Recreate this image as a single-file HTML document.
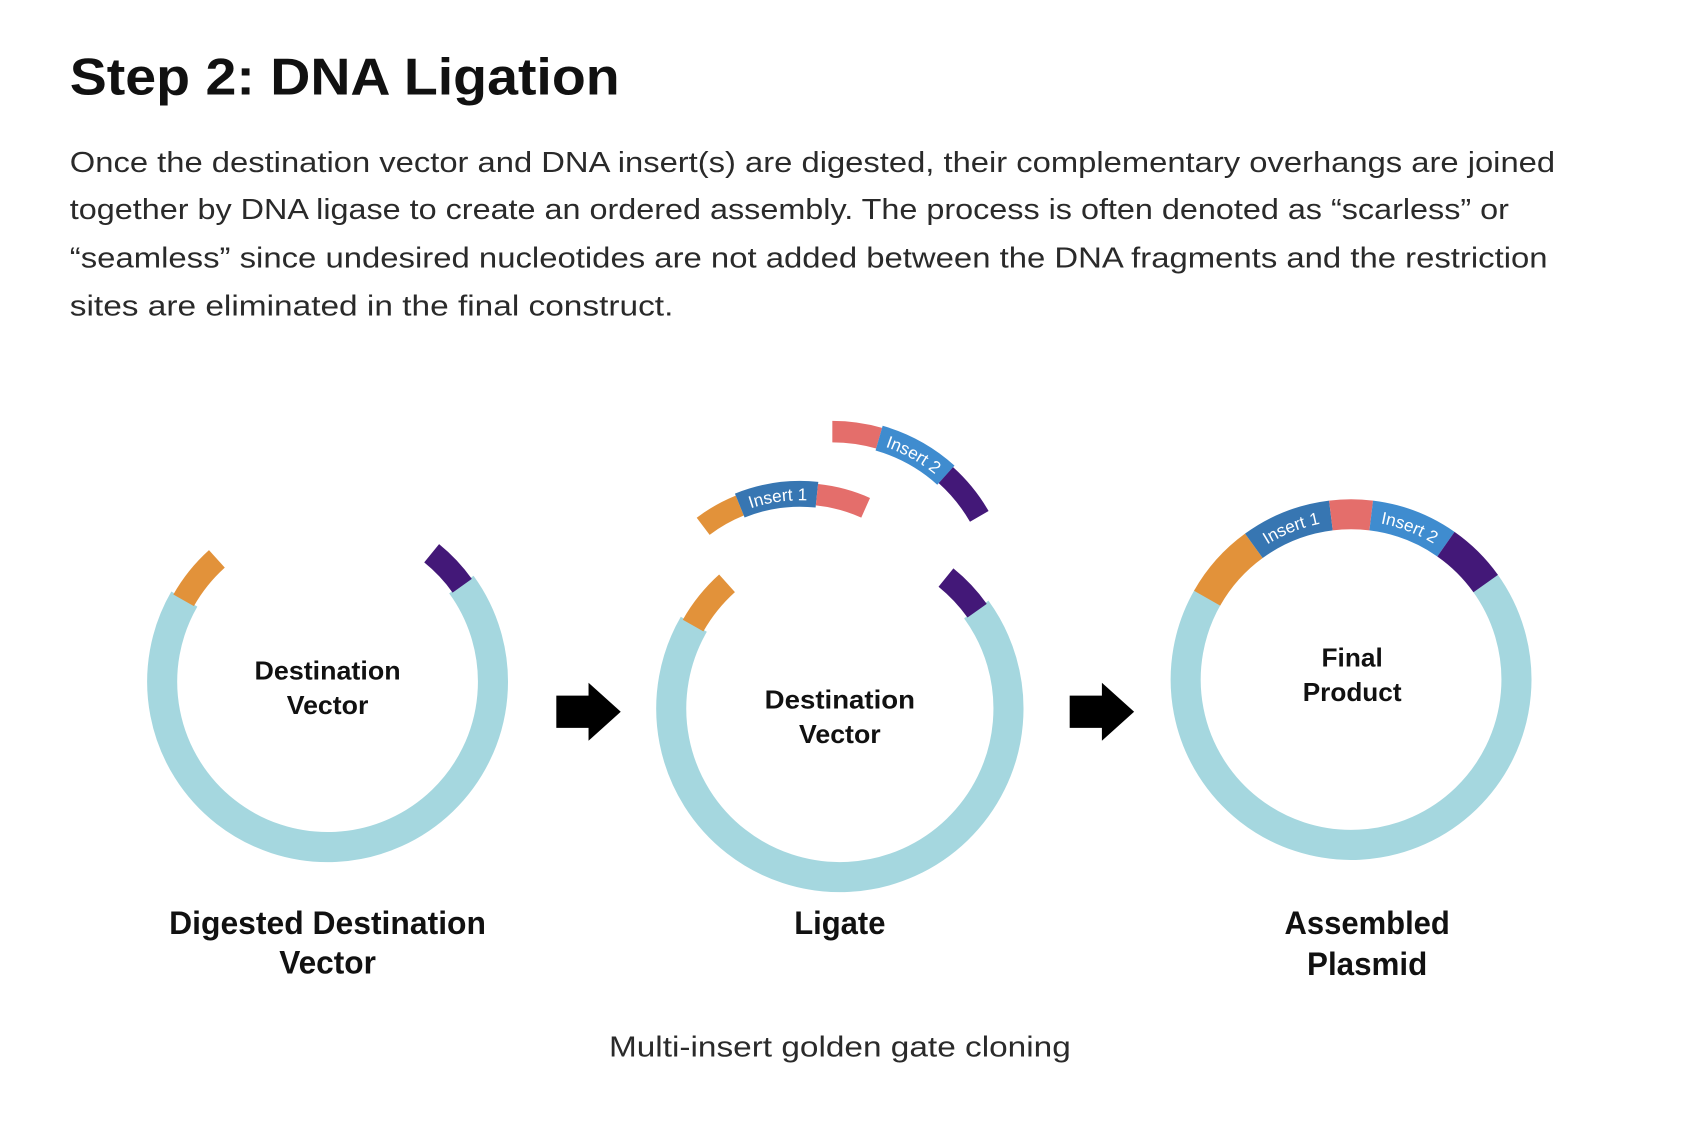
<!DOCTYPE html>
<html><head><meta charset="utf-8"><style>
html,body{margin:0;padding:0;background:#fff}
svg{display:block}
text{font-family:"Liberation Sans",sans-serif}
</style></head><body>
<svg id="s" width="1684" height="1138" viewBox="0 0 1568 1060" preserveAspectRatio="none" xmlns="http://www.w3.org/2000/svg">
<g fill="#111">
<text x="65" y="88" font-size="48" font-weight="bold" textLength="512" lengthAdjust="spacingAndGlyphs">Step 2: DNA Ligation</text>
</g>
<g fill="#2a2a2a" font-size="27">
<text x="65" y="160" textLength="1383" lengthAdjust="spacingAndGlyphs">Once the destination vector and DNA insert(s) are digested, their complementary overhangs are joined</text>
<text x="65" y="204" textLength="1340" lengthAdjust="spacingAndGlyphs">together by DNA ligase to create an ordered assembly. The process is often denoted as “scarless” or</text>
<text x="65" y="249" textLength="1376" lengthAdjust="spacingAndGlyphs">“seamless” since undesired nucleotides are not added between the DNA fragments and the restriction</text>
<text x="65" y="294" textLength="562" lengthAdjust="spacingAndGlyphs">sites are eliminated in the final construct.</text>
</g>
<g id="arcs" fill="none"></g>
<g fill="#000">
<path d="M518 648H548V636L578 663L548 690V678H518Z"/>
<path d="M996 648H1026V636L1056 663L1026 690V678H996Z"/>
</g>
<g fill="#111" font-weight="bold" text-anchor="middle">
<text x="305" y="633" font-size="24" textLength="136" lengthAdjust="spacingAndGlyphs">Destination</text>
<text x="305" y="665" font-size="24" textLength="76" lengthAdjust="spacingAndGlyphs">Vector</text>
<text x="782" y="660" font-size="24" textLength="140" lengthAdjust="spacingAndGlyphs">Destination</text>
<text x="782" y="692" font-size="24" textLength="76" lengthAdjust="spacingAndGlyphs">Vector</text>
<text x="1259" y="621" font-size="24" textLength="57" lengthAdjust="spacingAndGlyphs">Final</text>
<text x="1259" y="653" font-size="24" textLength="92" lengthAdjust="spacingAndGlyphs">Product</text>
<text x="305" y="870" font-size="30" textLength="295" lengthAdjust="spacingAndGlyphs">Digested Destination</text>
<text x="305" y="907" font-size="30" textLength="90" lengthAdjust="spacingAndGlyphs">Vector</text>
<text x="782" y="870" font-size="30" textLength="85" lengthAdjust="spacingAndGlyphs">Ligate</text>
<text x="1273" y="870" font-size="30" textLength="154" lengthAdjust="spacingAndGlyphs">Assembled</text>
<text x="1273" y="908" font-size="30" textLength="112" lengthAdjust="spacingAndGlyphs">Plasmid</text>
</g>
<text x="782" y="984" font-size="27" fill="#2a2a2a" text-anchor="middle" textLength="430" lengthAdjust="spacingAndGlyphs">Multi-insert golden gate cloning</text>
</svg>
<script>
var g=document.getElementById('arcs'),NS="http://www.w3.org/2000/svg";
function P(cx,cy,r,a){a=a*Math.PI/180;return [cx+r*Math.sin(a),cy-r*Math.cos(a)];}
function arcD(cx,cy,r,a1,a2){var p=P(cx,cy,r,a1),q=P(cx,cy,r,a2);var large=(a2-a1)>180?1:0;
return "M"+p[0].toFixed(2)+" "+p[1].toFixed(2)+"A"+r+" "+r+" 0 "+large+" 1 "+q[0].toFixed(2)+" "+q[1].toFixed(2);}
var id=0;
function arc(cx,cy,r,w,a1,a2,col,label){var e=document.createElementNS(NS,'path');var d=arcD(cx,cy,r,a1,a2);
e.setAttribute('d',d);e.setAttribute('stroke',col);e.setAttribute('stroke-width',w);g.appendChild(e);
if(label){var pid='tp'+(id++);var pp=document.createElementNS(NS,'path');pp.setAttribute('id',pid);pp.setAttribute('d',arcD(cx,cy,r-6,a1,a2));g.appendChild(pp);
var t=document.createElementNS(NS,'text');t.setAttribute('fill','#fff');t.setAttribute('font-size','16');
var tp=document.createElementNS(NS,'textPath');tp.setAttribute('href','#'+pid);tp.setAttribute('startOffset','50%');tp.setAttribute('text-anchor','middle');tp.textContent=label;t.appendChild(tp);g.appendChild(t);}}
var LB="#a5d7df",OR="#e2923a",PU="#431878",PK="#e46e6b",B1="#3776b2",B2="#3f8ccf";
// circle 1
arc(305,635,154,28,54,300,LB);arc(305,635,154,22,-60.5,-42,OR);arc(305,635,154,22,39,54.5,PU);
// circle 2
arc(782,660,157,28,54,300,LB);arc(782,660,157,22,-60.5,-42,OR);arc(782,660,157,22,39,54.5,PU);
// fragment 1
arc(745,610,150,20,-37,-22,OR);arc(745,610,150,24,-22,6,B1,"Insert 1");arc(745,610,150,20,6,24,PK);
// fragment 2
arc(775,560,158,20,0,16,PK);arc(775,560,158,24,16,42,B2,"Insert 2");arc(775,560,158,20,42,60,PU);
// circle 3
arc(1258,633,154,28,54,300,LB);arc(1258,633,154,28,-60.5,-36,OR);arc(1258,633,154,28,-36,-7,B1,"Insert 1");
arc(1258,633,154,28,-7,7,PK);arc(1258,633,154,28,7,35,B2,"Insert 2");arc(1258,633,154,28,35,54.5,PU);
</script>
</body></html>
